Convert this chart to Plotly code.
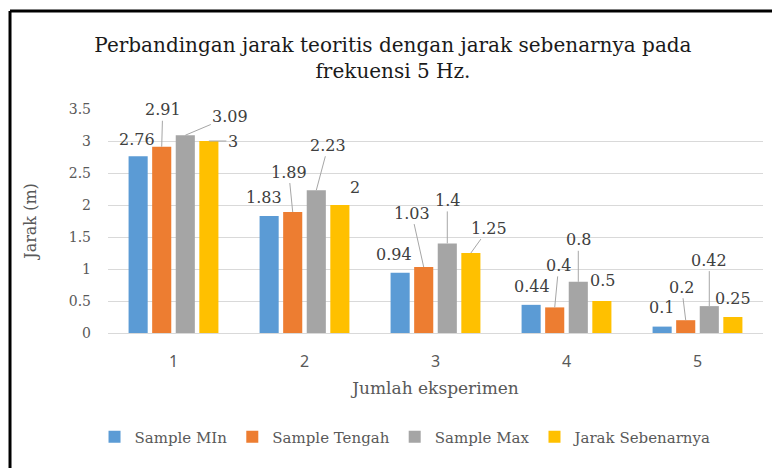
import plotly.graph_objects as go

# data
eksperimen = [1, 2, 3, 4, 5]
tick_labels = ["1", "2", "3", "4", "5"]
sample_min = [2.76, 1.83, 0.94, 0.44, 0.1]
sample_tengah = [2.91, 1.89, 1.03, 0.4, 0.2]
sample_max = [3.09, 2.23, 1.4, 0.8, 0.42]
jarak_sebenarnya = [3, 2, 1.25, 0.5, 0.25]

series = [
    ("Sample MIn", sample_min, "#5B9BD5"),
    ("Sample Tengah", sample_tengah, "#ED7D31"),
    ("Sample Max", sample_max, "#A5A5A5"),
    ("Jarak Sebenarnya", jarak_sebenarnya, "#FFC000"),
]

# label offsets in px (dx, dy) from the bar top, and whether a leader line is drawn
label_pos = [
    [(-1, -17, False), (-5, -18, False), (-6, -18, False), (1, -18, False), (-1, -19, False)],
    [(1, -37, True), (-4, -40, True), (-12, -54, True), (4, -42, True), (-4, -33, True)],
    [(45, -19, True), (12, -45, True), (0, -43, True), (0, -42, True), (0, -46, True)],
    [(24, 0, True), (15, -18, False), (18, -25, True), (1, -21, False), (0, -19, False)],
]

serif = "DejaVu Serif"
BARGAP = 0.28
slot = (1 - BARGAP) / len(series)

fig = go.Figure()
annotations = []
for i, (name, vals, col) in enumerate(series):
    fig.add_trace(go.Bar(x=eksperimen, y=vals, name=name, marker=dict(color=col, line_width=0)))
    for j, v in enumerate(vals):
        dx, dy, leader = label_pos[i][j]
        xpos = eksperimen[j] + (i - (len(series) - 1) / 2) * slot
        a = dict(x=xpos, y=v, xref="x", yref="y", text=str(v),
                 font=dict(family=serif, size=16, color="#404040"))
        if leader:
            a.update(showarrow=True, arrowhead=0, arrowwidth=1, arrowcolor="#A6A6A6",
                     ax=dx, ay=dy)
        else:
            a.update(showarrow=False, xshift=dx, yshift=-dy)
        annotations.append(a)

fig.update_layout(
    barmode="group",
    bargap=BARGAP,
    bargroupgap=0.19,
    width=772,
    height=468,
    margin=dict(l=108, r=9, t=109, b=135),
    paper_bgcolor="white",
    plot_bgcolor="white",
    title=dict(
        text="Perbandingan jarak teoritis dengan jarak sebenarnya pada<br>frekuensi 5 Hz.",
        x=0.509, xanchor="center", xref="container",
        y=0.888, yanchor="top",
        font=dict(family=serif, size=20, color="#1a1a1a"),
    ),
    legend=dict(
        orientation="h",
        x=0.455, xanchor="center",
        y=-0.464, yanchor="middle",
        font=dict(family=serif, size=15, color="#595959"),
        itemwidth=30,
        traceorder="normal",
    ),
    annotations=annotations,
)

fig.update_xaxes(
    tickvals=eksperimen,
    ticktext=tick_labels,
    range=[0.5, 5.5],
    showgrid=False,
    showline=True,
    linecolor="#D9D9D9",
    linewidth=1,
    ticks="",
    ticklabelstandoff=14,
    tickfont=dict(family="Noto Sans", size=16, color="#595959"),
    title=dict(text="Jumlah eksperimen", standoff=10,
               font=dict(family=serif, size=17, color="#595959")),
)
fig.update_yaxes(
    range=[0, 3.5],
    dtick=0.5,
    showgrid=True,
    gridcolor="#D9D9D9",
    zeroline=False,
    ticks="",
    ticklabelstandoff=16,
    tickfont=dict(family=serif, size=14, color="#595959"),
    title=dict(text="Jarak (m)", standoff=28,
               font=dict(family=serif, size=16, color="#595959")),
)

# outer frame (left and top edges only, as in the source image)
fig.add_shape(type="line", xref="paper", yref="paper",
              x0=-0.1496, x1=-0.1496, y0=-0.65, y1=1.4375,
              line=dict(color="black", width=3))
fig.add_shape(type="line", xref="paper", yref="paper",
              x0=-0.1496, x1=1.05, y0=1.4375, y1=1.4375,
              line=dict(color="black", width=3))

fig.write_html("out.html", config={"displayModeBar": False},
               post_script="document.body.style.margin='0';document.body.style.overflow='hidden';")
